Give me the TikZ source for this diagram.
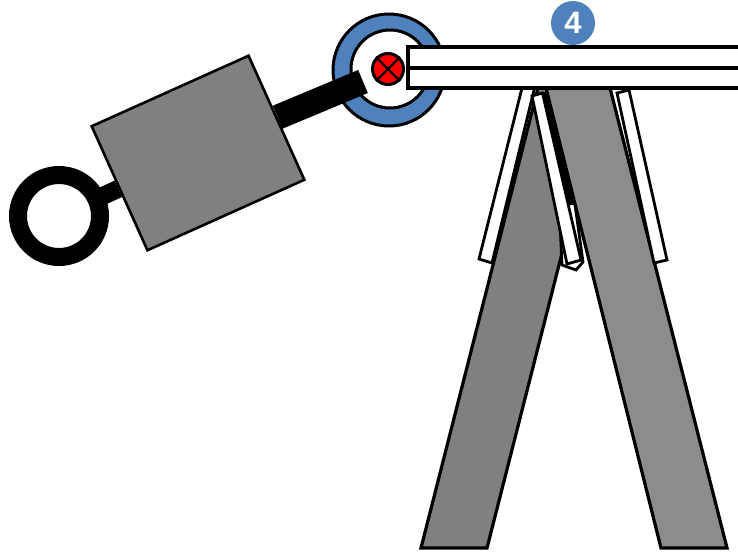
\documentclass[tikz,border=0pt]{standalone}
\usepackage{fontspec}
\setsansfont{Liberation Sans}
\usepackage{xcolor}
\definecolor{hubBlue}{HTML}{4F81BD}
\definecolor{massGray}{HTML}{808080}
\definecolor{legGray}{HTML}{8C8C8C}
\tikzset{
  kOutline/.style={draw=black,line width=3.2pt,line join=miter},
  kLegL/.style={kOutline,fill=massGray},
  kLegR/.style={kOutline,fill=legGray},
  kStrip/.style={kOutline,line width=2.8pt,fill=white},
  kMass/.style={draw=black,line width=2.6pt,fill=massGray,rotate=24.2,
        minimum width=172pt,minimum height=136pt,inner sep=0pt},
  kRing/.style={circle,draw=black,line width=3pt,inner sep=0pt},
  kRod/.style={draw=black,line cap=butt},
  kBadge/.style={circle,fill=hubBlue,inner sep=0pt,minimum size=44pt,text=white,
        font=\sffamily\bfseries\fontsize{31}{31}\selectfont},
}
\begin{document}
\begin{tikzpicture}[x=1pt,y=-1pt]
\useasboundingbox (0,0) rectangle (738,552);
\clip (0,0) rectangle (738,552);
% pivot
\node[kRing,fill=hubBlue,minimum size=112pt] (hubOuter) at (389,70) {};
\node[kRing,fill=white,minimum size=78pt] (hubInner) at (390,69) {};
\node[kRing,fill=red,minimum size=31pt] (axis) at (388,69) {};
\draw[line width=2.4pt] (axis.north east) -- (axis.south west);
\draw[line width=2.4pt] (axis.north west) -- (axis.south east);
% arm with mass
\coordinate (rodEnd) at (363,81.5);
\node[kRing,line width=18pt,minimum size=82pt] (handle) at (59,216) {};
\node[kMass] (mass) at (198,153) {};
\draw[kRod,line width=25pt] (mass.east) -- (rodEnd);
\draw[kRod,line width=18pt,shorten >=-2pt] (mass.west) -- (handle);
% legs
\draw[kLegL] (538,88) -- (421,548) -- (487,548) -- (604,88) -- cycle;
\draw[kStrip] (556,140) -- (562,265) -- (576,270) -- (583,262) -- (566,140) -- cycle;
\draw[line width=6pt] (544.5,92) -- (571.5,205);
\draw[kLegR] (546,88) -- (661,548) -- (727,548) -- (610,88) -- cycle;
\draw[kStrip] (522,88) -- (479,259) -- (492,263) -- (534.5,88) -- cycle;
\draw[kStrip] (532,96) -- (567,264) -- (581,260) -- (542.5,93) -- cycle;
\draw[kStrip] (617,93) -- (654,263) -- (667,260) -- (629,90) -- cycle;
% badge and beam
\node[kBadge] (badge) at (573,23) {4};
\draw[kOutline,fill=white] (408,47) rectangle (745,68);
\draw[kOutline,fill=white] (408,68) rectangle (745,88);
\end{tikzpicture}
\end{document}
